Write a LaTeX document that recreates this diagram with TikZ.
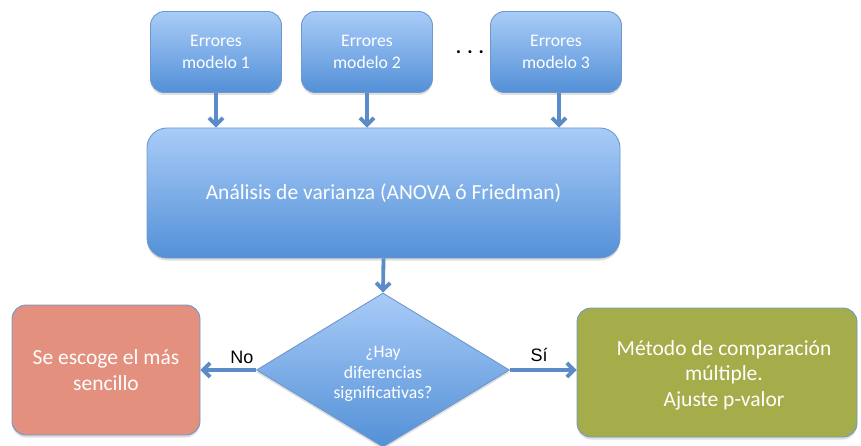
\documentclass[tikz,border=0pt]{standalone}
\usepackage{fontspec}
\setmainfont{Carlito}
\newfontfamily\answerfont{Liberation Sans}
\usetikzlibrary{shapes.geometric,arrows.meta,shadows}

\definecolor{boxTop}{HTML}{A9CCF8}
\definecolor{boxBot}{HTML}{5390D7}
\definecolor{boxEdge}{HTML}{6E98CB}
\definecolor{linkBlue}{HTML}{5B8CC8}
\definecolor{redFill}{HTML}{E3907F}
\definecolor{greenFill}{HTML}{A5AD4A}

\begin{document}
\begin{tikzpicture}[x=1pt,y=-1pt,
  base/.style={draw=boxEdge, line width=0.9pt, text=white, align=center,
    inner sep=0pt,
    drop shadow={shadow xshift=0pt, shadow yshift=-2.5pt, opacity=0.25}},
  roundbox/.style={base, rectangle, rounded corners=14pt},
  bluefill/.style={top color=boxTop, bottom color=boxBot},
  smalltext/.style={font=\fontsize{17.7}{21.6}\selectfont},
  largetext/.style={font=\fontsize{21.5}{26}\selectfont},
  caption/.style={text=white, align=center, inner sep=0pt},
  link/.style={draw=linkBlue, line width=3.8pt,
    -{Straight Barb[length=7pt,width=14pt]}},
  answer/.style={font=\answerfont\fontsize{18}{20}\selectfont, text=black,
    inner sep=0pt}
]
\useasboundingbox (0,0) rectangle (861,446);

% input boxes
\node[roundbox, bluefill, smalltext, minimum width=131pt, minimum height=81pt]
  (e1) at (216,52) {Errores\\modelo 1};
\node[roundbox, bluefill, smalltext, minimum width=131pt, minimum height=81pt]
  (e2) at (367,52) {Errores\\modelo 2};
\node[roundbox, bluefill, smalltext, minimum width=131pt, minimum height=81pt]
  (e3) at (556,52) {Errores\\modelo 3};
\node[font=\fontsize{20}{20}\selectfont\bfseries, text=black, anchor=base,
  inner sep=0pt] (dots) at (470,54) {.\hspace{6pt}.\hspace{6pt}.};

% analysis of variance
\node[roundbox, bluefill, largetext, rounded corners=20pt,
  minimum width=473pt, minimum height=130pt]
  (anova) at (383.5,193) {Análisis de varianza (ANOVA ó Friedman)};

% decision
\node[base, diamond, bluefill, aspect=1.64,
  minimum width=253pt, minimum height=154pt] (test) at (383,370) {};
\node[caption, smalltext, font=\fontsize{17.7}{20.5}\selectfont]
  (testtext) at (383,374) {¿Hay\\diferencias\\significativas?};

% outcomes
\node[roundbox, fill=redFill, largetext, minimum width=188pt, minimum height=130pt]
  (simple) at (106,370) {Se escoge el más\\sencillo};
\node[roundbox, fill=greenFill, minimum width=280pt, minimum height=129pt]
  (multi) at (717,372.5) {};
\node[caption, largetext, font=\fontsize{21.5}{25.5}\selectfont]
  (multitext) at (724,375) {Método de comparación\\múltiple.\\Ajuste p-valor};

% connectors
\draw[link] (e1.south) -- (e1.south |- anova.north);
\draw[link] (e2.south) -- (e2.south |- anova.north);
\draw[link] ([xshift=3pt]e3.south) -- ([xshift=3pt]e3.south |- anova.north);
\draw[link] (anova.south) -- (test.north);
\draw[link] (test.west) -- (simple.east);
\draw[link] (test.east) -- (test.east -| multi.west);
\node[answer, anchor=base] (no) at (242,363) {No};
\node[answer, anchor=base] (si) at (539,361) {Sí};
\end{tikzpicture}
\end{document}
